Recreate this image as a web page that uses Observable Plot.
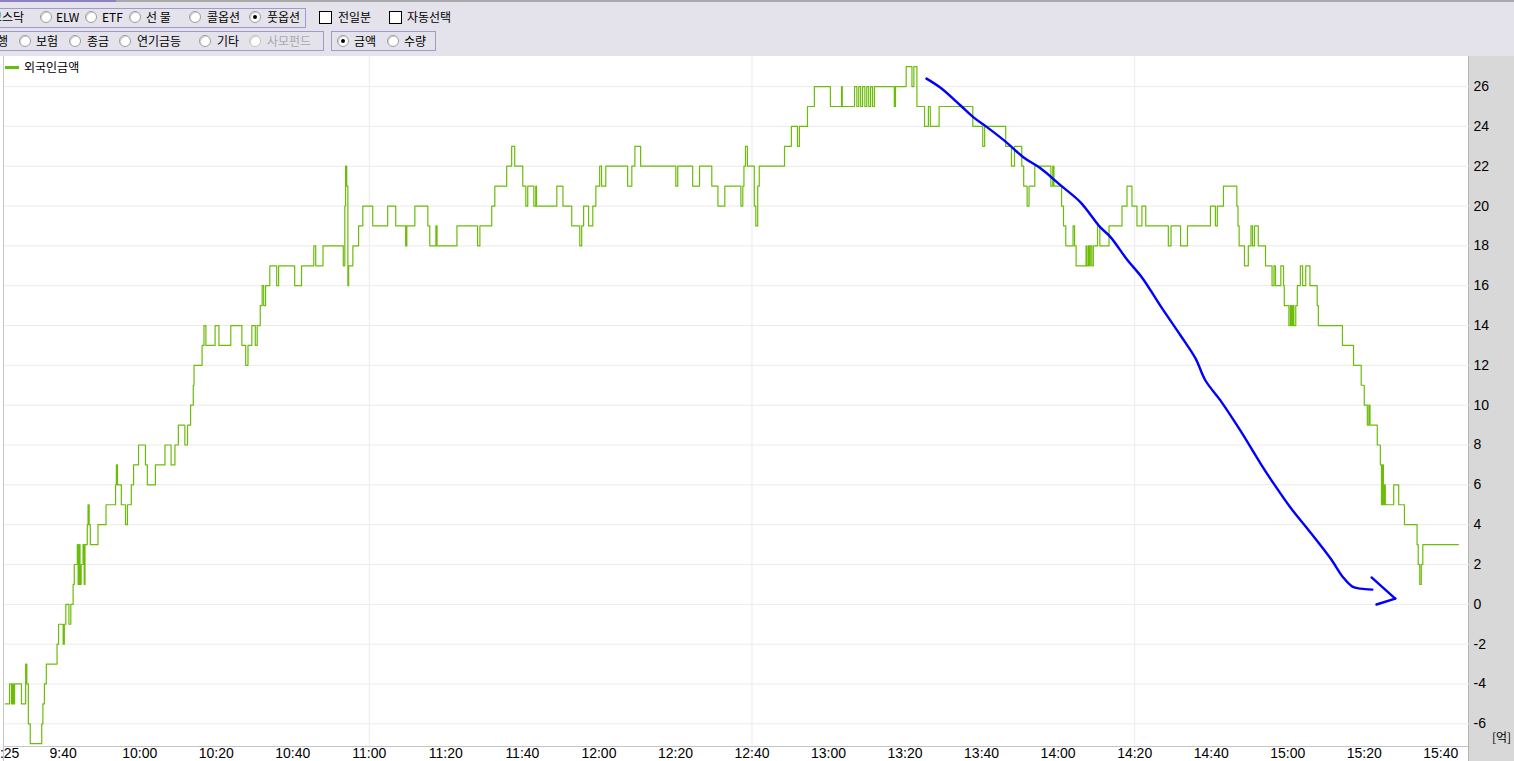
<!DOCTYPE html>
<html><head><meta charset="utf-8">
<script src="https://cdn.jsdelivr.net/npm/d3@7"></script>
<script src="https://cdn.jsdelivr.net/npm/@observablehq/plot@0.6"></script>
<style>
body{margin:0;width:1514px;height:761px;overflow:hidden;position:relative;background:#fff;font-family:"Noto Sans CJK KR",sans-serif;}
#bar{position:absolute;left:0;top:0;width:1514px;height:56px;background:#e4e3eb;overflow:hidden;}
.t{position:absolute;font-size:12px;line-height:16px;height:16px;white-space:pre;color:#000;}
.box{position:absolute;border:1px solid #a398cb;box-sizing:border-box;}
.rad{position:absolute;width:12px;height:12px;border-radius:50%;background:#fff;border:1px solid #9c9c9c;box-sizing:border-box;box-shadow:inset 1px 1px 0 #d0d0d0;}
.rad.on::after{content:"";position:absolute;left:3px;top:3px;width:4px;height:4px;border-radius:50%;background:#000;}
.rad.off{border-color:#c4c4c4;}
.chk{position:absolute;width:13px;height:13px;background:#fff;border:1px solid #000;box-sizing:border-box;}
#chart{position:absolute;left:0;top:56px;}
#legend{position:absolute;left:0;top:56px;}
</style></head><body>
<div id="bar"></div>
<div id="chart"></div>
<div id="legend"></div>
<div class="t" style="left:1492px;top:729px;font-size:12px;">[억]</div>
<script>
// ---- series: 외국인금액 (억), time in minutes after 09:00 ----
const times = [24.9,26.0,26.5,26.8,27.0,27.3,29.1,30.2,30.5,30.9,
31.4,34.4,34.7,35.1,35.6,38.4,38.8,40.0,40.3,40.7,
41.5,42.0,42.6,42.9,43.7,43.9,44.2,44.4,44.7,45.2,
45.5,45.7,46.3,46.5,46.8,47.1,49.1,51.2,53.7,53.9,
54.2,55.2,56.3,56.8,57.8,58.4,59.7,61.5,62.0,64.1,
66.6,68.2,69.2,70.1,71.8,72.5,73.3,74.0,74.2,76.3,
76.8,77.3,79.7,80.7,83.8,86.7,87.7,88.3,89.3,90.2,
90.7,91.5,92.0,92.4,92.9,94.0,95.8,96.3,100.5,102.3,
105.5,106.0,107.9,113.2,113.6,113.8,114.1,114.4,114.6,115.7,
117.2,118.3,120.9,124.8,126.9,129.5,129.8,131.9,135.3,135.8,
137.4,137.7,142.9,148.3,148.9,152.0,152.8,155.9,157.2,158.0,
160.1,160.9,161.4,163.0,163.5,163.7,169.0,170.6,172.9,175.0,
175.5,176.0,177.3,178.4,179.2,180.2,180.7,181.8,187.5,188.6,
189.4,190.9,200.1,200.6,204.5,206.3,209.5,211.1,212.9,217.1,
217.6,217.9,218.3,218.8,220.6,221.0,221.5,221.9,228.5,230.3,
231.9,232.4,234.5,236.3,240.5,243.4,243.6,246.8,247.4,247.9,
248.4,248.9,249.5,250.0,250.5,251.0,251.5,252.0,257.2,257.5,
260.3,261.8,262.3,263.1,265.1,266.1,266.6,268.9,277.7,280.3,
280.8,286.3,287.8,288.6,290.5,291.0,291.9,292.4,293.9,298.1,
298.6,298.9,300.9,301.4,302.0,303.9,304.3,304.7,307.3,307.5,
307.9,308.2,308.4,308.8,309.2,310.3,310.9,313.3,316.7,318.0,
319.3,320.6,321.9,322.9,328.8,329.5,332.0,333.8,339.8,341.1,
341.6,343.2,346.7,347.0,347.3,348.7,349.7,350.4,350.8,351.3,
352.3,354.2,355.9,356.4,356.8,358.2,358.9,359.1,360.3,360.7,
361.0,361.3,361.6,362.1,362.5,363.3,363.9,364.7,365.8,367.7,
368.0,374.3,377.2,379.2,380.0,380.8,381.2,381.5,383.4,384.2,
384.5,384.7,385.0,385.2,385.5,387.7,389.0,390.5,393.8,394.1,
394.5,394.9,395.3,404.6];
const values = [-5,-4,-5,-4,-5,-4,-5,-3,-4,-6,
-7,-6,-5,-4,-3,-2,-1,-2,-1,0,
-1,0,1,2,3,1,3,1,2,3,
1,3,4,5,4,3,4,5,6,7,
6,5,4,5,6,7,8,7,6,7,
8,7,8,9,8,9,10,11,12,13,
14,13,14,13,14,13,12,13,14,13,
14,15,16,15,16,17,16,17,16,17,
18,17,18,17,20,22,21,16,17,18,
19,20,19,20,19,18,19,20,19,18,
19,18,19,18,19,20,21,22,23,22,
21,20,21,20,21,20,21,20,19,18,
19,20,19,20,21,22,21,22,21,22,
23,22,21,22,21,22,21,20,21,20,
21,22,23,22,20,19,21,22,23,24,
23,24,25,26,25,26,25,26,25,26,
25,26,25,26,25,26,25,26,25,26,
27,26,27,25,24,25,24,25,24,23,
24,23,22,23,22,21,20,21,22,21,
22,21,20,19,18,19,18,17,18,17,
18,17,18,17,18,19,18,19,20,21,
20,19,20,19,18,19,18,19,20,19,
20,21,20,19,18,17,18,19,18,19,
18,17,16,17,16,17,16,15,14,15,
14,15,14,15,16,17,16,17,16,15,
14,13,12,11,10,9,10,9,8,7,
5,7,5,6,5,6,5,4,3,2,
1,2,3,3];

// ---- axes ----
const tickLabels = ["9:25","9:40","10:00","10:20","10:40","11:00","11:20","11:40","12:00","12:20","12:40","13:00","13:20","13:40","14:00","14:20","14:40","15:00","15:20","15:40"];
const yTicks = [-6,-4,-2,0,2,4,6,8,10,12,14,16,18,20,22,24,26];
const gridTimes = ["11:00","12:40","14:20"];
const xStart = 24.67, xEnd = 407.5;     // visible window, minutes after 09:00
const yMin = -7.14, yMax = 27.51;

// ---- hand-drawn blue annotation (minutes after 09:00, 억) ----
const arrowTimes = [265.6,269.2,274.5,277.9,281.5,286.8,290.9,295.4,300.6,305.8,311.0,313.7,318.1,322.0,326.7,332.0,335.9,338.5,342.4,347.6,352.9,356.3,360.7,365.1,371.2,374.5,376.9,379.0,382.1];
const arrowValues = [26.40,25.95,25.05,24.45,23.95,23.15,22.45,21.90,21.05,20.20,18.94,18.44,17.29,16.39,15.0,13.5,12.35,11.24,10.24,8.73,7.07,6.07,4.86,3.81,2.30,1.35,0.89,0.79,0.74];
const headTimes = [381.9,388.1,383.2];
const headValues = [1.35,0.29,-0.01];

const t0 = new Date(2024,0,2,9,0,0);
const toDate = m => new Date(+t0 + m*60000);
const clock = s => { const [h,mm] = s.split(":").map(Number); return new Date(2024,0,2,h,mm); };

const data = times.map((m,i) => ({t: toDate(m), v: values[i]}));
const arrow = arrowTimes.map((m,i) => ({t: toDate(m), v: arrowValues[i]}));
const head = [
  {t: toDate(headTimes[0]), v: headValues[0], s: "a"},
  {t: toDate(headTimes[1]), v: headValues[1], s: "a"},
  {t: toDate(headTimes[2]), v: headValues[2], s: "b"},
  {t: toDate(headTimes[1]), v: headValues[1], s: "b"}
];

const fmt = d3.timeFormat("%-H:%M");
const plot = Plot.plot({
  width: 1514, height: 705,
  marginLeft: 4, marginRight: 45, marginTop: 0, marginBottom: 15,
  style: {
    background: "linear-gradient(to right, #fff 3px, #c6c6c6 3px, #c6c6c6 4px, #fff 4px, #fff 1468px, #b2b2b2 1468px, #b2b2b2 1469px, #d8d8d8 1469px)",
    fontFamily: "'Liberation Sans Narrow','Liberation Sans',sans-serif",
    fontSize: "14px", color: "#000"
  },
  x: {type: "time", domain: [toDate(xStart), toDate(xEnd)]},
  y: {domain: [yMin, yMax]},
  marks: [
    Plot.gridY(yTicks, {stroke: "#ebebeb", strokeOpacity: 1}),
    Plot.gridX(gridTimes.map(clock), {stroke: "#ebebeb", strokeOpacity: 1}),
    Plot.frame({anchor: "bottom", stroke: "#c4c4c4"}),
    Plot.axisX(tickLabels.map(clock), {tickSize: 0, tickPadding: 2, tickFormat: fmt, fill: "#000", label: null}),
    Plot.axisY(yTicks, {anchor: "right", tickSize: 0, tickPadding: 4, tickFormat: d => String(d), fill: "#000", label: null}),
    Plot.line(data, {x: "t", y: "v", curve: "step-after", stroke: "#6cbd0a", strokeWidth: 1.2}),
    Plot.line(arrow, {x: "t", y: "v", curve: "catmull-rom", stroke: "#0000ff", strokeWidth: 2.4, strokeLinecap: "round"}),
    Plot.line(head, {x: "t", y: "v", z: "s", stroke: "#0000ff", strokeWidth: 2.4, strokeLinecap: "round"})
  ]
});
document.getElementById("chart").append(plot);

// ---- legend ----
const legendLabel = "외국인금액";
document.getElementById("legend").innerHTML =
  `<div style="position:absolute;left:5px;top:10px;width:14px;height:3px;background:#6cbd0a"></div>` +
  `<div class="t" style="left:24px;top:3px;">${legendLabel}</div>`;

// ---- toolbar ----
const row1Radios = ["ELW","ETF","선 물","콜옵션","풋옵션"];
const row1Checks = ["전일분","자동선택"];
const row2Radios = ["보험","종금","연기금등","기타","사모펀드"];
const row3Radios = ["금액","수량"];
const bar = document.getElementById("bar");
let html = `<div style="position:absolute;left:0;top:0;width:1514px;height:2px;background:#a9a9ad"></div>
<div style="position:absolute;left:0;top:0;width:116px;height:2px;background:#8e80be"></div>
<div class="box" style="left:-2px;top:8px;width:308px;height:20px"></div>
<div class="box" style="left:-2px;top:31px;width:326px;height:20px"></div>
<div class="box" style="left:331px;top:31px;width:105px;height:20px"></div>
<div class="t" style="left:-9px;top:9px">코스닥</div>
<div class="t" style="left:-14px;top:33px">은행</div>`;
const r1 = [[46,56],[91,102],[135,146],[195,207],[255,267]];
row1Radios.forEach((s,i) => {
  html += `<div class="rad${i===4?' on':''}" style="left:${r1[i][0]-6}px;top:11px"></div><div class="t" style="left:${r1[i][1]}px;top:9px">${s}</div>`;
});
const c1 = [[319,338],[389,407]];
row1Checks.forEach((s,i) => {
  html += `<div class="chk" style="left:${c1[i][0]}px;top:11px"></div><div class="t" style="left:${c1[i][1]}px;top:9px">${s}</div>`;
});
const r2 = [[25,36],[75,87],[125,137],[205,217],[255,267]];
row2Radios.forEach((s,i) => {
  const off = i===4;
  html += `<div class="rad${off?' off':''}" style="left:${r2[i][0]-6}px;top:35px"></div><div class="t" style="left:${r2[i][1]}px;top:33px;${off?'color:#a8a8a8':''}">${s}</div>`;
});
const r3 = [[343,354],[393,404]];
row3Radios.forEach((s,i) => {
  html += `<div class="rad${i===0?' on':''}" style="left:${r3[i][0]-6}px;top:35px"></div><div class="t" style="left:${r3[i][1]}px;top:33px">${s}</div>`;
});
bar.innerHTML = html;
</script>
</body></html>
